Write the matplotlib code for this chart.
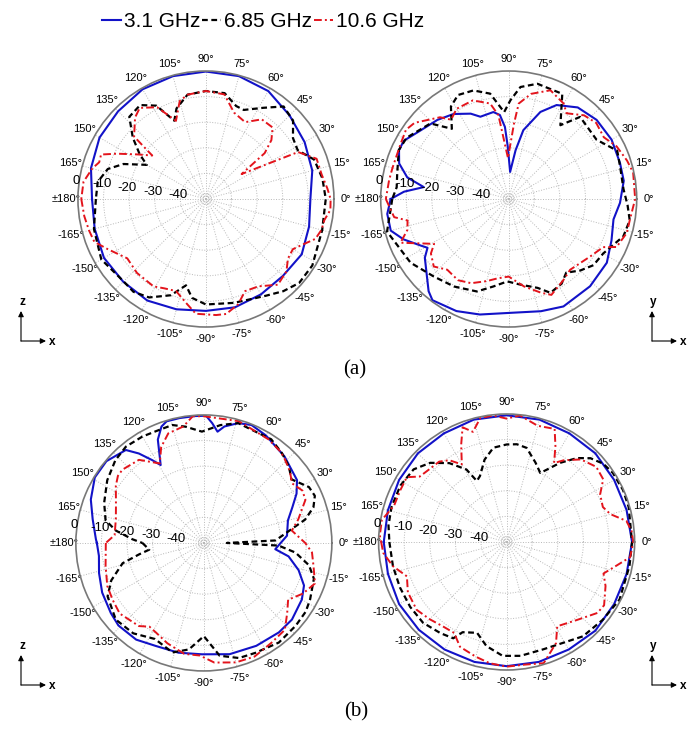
import numpy as np
import matplotlib
matplotlib.use('Agg')
import matplotlib.pyplot as plt
from matplotlib.ticker import NullFormatter

plt.rcParams['font.family'] = ['Liberation Sans', 'DejaVu Sans']

freq_labels = ['3.1 GHz', '6.85 GHz', '10.6 GHz']
ring_db = [-48, -40, -30, -20, -10]
radial_ticks = [0, -10, -20, -30, -40]
radial_labels = ['0', '-10', '-20', '-30', '-40']

# ---- (a) left: xz plane ----
tl_blue_deg = [-180, -165, -150, -135, -120, -105, -90, -75, -60, -45, -30, -15, 0, 15, 30, 45, 60, 75, 90, 105, 120, 135, 150, 165, 180]
tl_blue_db = [-5.5, -5, -4, -4.3, -4.2, -5.4, -6.3, -6.2, -7, -7.5, -6.8, -8.3, -9.2, -7, -5.5, -3.8, -1.3, -0.3, -0.2, -0.3, -0.5, -1.5, -2, -3.5, -5.5]

tl_black_deg = [-180, -165, -150, -135, -128, -120, -110, -103, -98, -90, -75, -65, -58, -50, -42, -32, -15, 0, 10, 20, 28, 35, 42, 50, 58, 67, 72, 80, 90, 100, 108, 112, 118, 125, 133, 140, 146, 150, 157, 163, 171, 180]
tl_black_db = [-7, -4.7, -2.8, -4.5, -4, -5.6, -10, -15.4, -11, -8.8, -8, -7, -5.5, -3, -1, -1, -3, -3.2, -3.8, -5, -9.4, -8.5, -4.2, -2.8, -8, -12.2, -11.8, -8, -7.8, -8.6, -12.8, -17, -8.7, -5.2, -6.1, -12.7, -18.8, -23.3, -15, -9.9, -7.2, -7]

tl_red_deg = [-180, -172, -165, -159, -153, -143, -133, -121, -115, -108, -100, -95, -85, -80, -73, -67, -59, -50, -42, -36, -30, -26, -20, -15, -10, -5, 0, 5, 12, 20, 27, 30, 35, 38, 42, 47, 55, 63, 72, 80, 90, 100, 105, 111, 118, 126, 131, 139, 141, 147, 153, 157, 161, 165, 172, 180]
tl_red_db = [-1.3, -2, -2.7, -3.3, -6.9, -11.5, -10.5, -10.2, -11.5, -12.2, -8.2, -5, -4.5, -4.4, -7, -10.9, -10.2, -6.3, -7.7, -10.4, -10.8, -8.7, -4.5, -3.3, -3, -1.2, -1.3, -2.4, -3.8, -4, -9.6, -23.3, -33, -20.9, -15.6, -11.8, -12, -16.3, -14.5, -8.5, -7.8, -8.6, -10.4, -17.3, -9.4, -6, -7.8, -12.8, -23, -18, -11, -5.5, -5.9, -4, -1.7, -1.3]

# ---- (a) right: xy plane ----
tr_blue_deg = [-180, -173, -165, -159, -152, -149, -145, -131, -127, -115, -104, -90, -74, -63, -47, -33, -22, -11, -2, 9, 18, 30, 42, 53, 63, 70, 78, 82, 87, 91, 93, 96, 100, 109, 114, 123, 132, 142, 151, 156, 162, 168, 172, 176, 180]
tr_blue_db = [-3.9, -2.2, -2.3, -6, -11.2, -13, -10, -2.3, -0.5, -1.7, -3.5, -5.5, -4.4, -2.9, -3.4, -4.3, -6.7, -8.3, -6.5, -4.5, -4.3, -3.6, -3.8, -5.2, -8.8, -13.8, -22.5, -30.8, -39.4, -29.6, -21.8, -17, -15.5, -16, -13.5, -10.4, -8.4, -6.4, -3.1, -3.1, -5, -9.5, -16.5, -9, -3.9]

tr_black_deg = [-180, -176, -165, -147, -134, -122, -109, -100, -91, -82, -72, -66, -58, -52, -45, -38, -30, -18, -10, -3, 5, 16, 24, 34, 49, 55, 63, 76, 84, 89, 93, 100, 108, 116, 122, 129, 136, 149, 156, 167, 174, 180]
tr_black_db = [-4.5, -3.9, -0.8, -4.3, -7.9, -9.7, -11.8, -15.3, -17.8, -16.2, -13.5, -9.9, -11, -13.5, -10.5, -8, -7.4, -2.9, -2, -3.5, -5, -4.7, -3.6, -8.6, -7.5, -14.8, -3.9, -3.6, -6, -11.4, -16, -8.2, -5.4, -4.8, -7.4, -14.7, -7.5, -3.5, -3, -5.3, -6, -4.5]

tr_red_deg = [-180, -171, -168, -163, -158, -149, -145, -138, -131, -122, -114, -105, -98, -90, -80, -71, -66, -56, -49, -35, -27, -24, -16, -10, 0, 12, 18, 26, 33, 41, 48, 56, 60, 69, 78, 84, 86, 91, 97, 101, 110, 120, 126, 130, 141, 146, 153, 165, 171, 180]
tr_red_db = [-2, -4.7, -9.6, -8.6, -4.4, -16, -12.9, -10.6, -13.4, -12.6, -14, -16.8, -18.7, -19.7, -15.3, -11.3, -9, -11.8, -13.4, -11, -8.6, -3.9, -2, -2, -0.6, -0.3, -1.4, -3.1, -5.7, -4.7, -6, -9.6, -7, -4.5, -8, -12.5, -20.5, -34, -17, -12, -9, -9.3, -11.7, -8.3, -2.7, -1.6, -2.6, -3, -2.7, -2]

# ---- (b) left: xz plane ----
bl_blue_deg = [-180, -173, -164, -154, -143, -136, -125, -115, -103, -91, -77, -63, -50, -41, -30, -23, -16, -9, -5, 5, 15, 22, 28, 34, 47, 60, 68, 74, 80, 83, 86, 89, 94, 101, 107, 110, 114, 119, 122, 126, 130, 140, 149, 159, 168, 178, 180]
bl_blue_db = [-8.2, -8.7, -7.4, -5.8, -4.5, -3.6, -3.9, -5.6, -6, -6.5, -5.4, -4.9, -4.4, -4.4, -5.8, -7.5, -11.5, -16.5, -22, -17.4, -16, -12.7, -9, -6.1, -3.8, -1.5, -0.3, -1.3, -3.8, -6.2, -3.1, -0.3, -0.3, -0.3, -0.3, -1.6, -5.8, -15.2, -11.8, -6.8, -2.6, -0.3, -0.3, -2.7, -5.6, -7.8, -8.2]

bl_black_deg = [-180, -173, -170, -166, -158, -151, -139, -128, -117, -106, -98, -90, -82, -73, -65, -53, -42, -34, -28, -18, -12, -6, -2, 0, 2, 10, 13, 18, 23, 28, 36, 42, 49, 57, 67, 74, 82, 91, 99, 105, 113, 120, 129, 137, 147, 158, 167, 172, 177, 180]
bl_black_db = [-26, -28.5, -24.3, -17.3, -11, -7, -4.4, -5.2, -7.9, -5.5, -8, -13.6, -5.5, -3, -2.6, -1.3, -1.7, -2, -3, -4.8, -8, -14, -20.8, -41, -22, -14, -9.4, -5, -2.9, -3.5, -7.7, -5.3, -3.5, -1.7, -2, -1.3, -3.5, -6.5, -4, -2.3, -2.5, -2, -1.6, -2.7, -5, -8, -10.6, -15.3, -22, -26]

bl_red_deg = [-180, -167, -156, -148, -140, -128, -123, -118, -110, -100, -92, -85, -75, -66, -56, -47, -40, -34, -27, -20, -12, -5, 0, 8, 14, 23, 28, 34, 40, 46, 50, 58, 74, 90, 95, 100, 108, 114, 119, 128, 138, 142, 147, 157, 165, 175, 180]
bl_red_db = [-11.7, -10.6, -8.7, -8, -7.1, -8.8, -11, -10.3, -8.3, -6, -6, -3.1, -1.7, -1.4, -2.9, -3.6, -7.5, -10.3, -6.5, -3.8, -6.2, -7.6, -10.4, -15.3, -12, -6.9, -6.4, -8.4, -6.2, -4.5, -3.4, -2.3, -0.5, -0.5, -0.3, -3.8, -5, -9, -14.5, -8.8, -7.2, -7.4, -9, -12.7, -14.4, -15, -11.7]

# ---- (b) right: xy plane ----
br_blue_deg = [-180, -165, -150, -135, -120, -105, -90, -75, -60, -45, -30, -15, 0, 15, 30, 45, 60, 75, 90, 105, 120, 135, 150, 165, 180]
br_blue_db = [-2, -2, -1.5, -1.5, -1.5, -1.5, -1.5, -1.5, -1.5, -1, -1.5, -1.5, -1, -1.5, -1.5, -1, -1, -0.5, -0.5, -0.5, -1, -1, -1.5, -2, -2]

br_black_deg = [-180, -168, -157, -146, -136, -126, -119, -116, -108, -101, -92, -83, -71, -61, -51, -39, -27, -11, 0, 16, 24, 33, 39, 45, 50, 56, 64, 70, 78, 84, 90, 98, 105, 112, 116, 119, 126, 134, 142, 152, 163, 172, 180]
br_black_db = [-4.2, -4.6, -4.7, -4.6, -4.6, -6, -7, -10.8, -12.7, -8.6, -5.5, -5.2, -5.7, -4.9, -2.6, -1.7, -0.5, -1.1, -1, -0.4, -0.2, -0.5, -1.4, -3.7, -7.2, -12.7, -20, -17, -12.4, -11.6, -11.9, -12.8, -16.7, -22.2, -23.5, -17.6, -11.9, -7, -3.9, -3, -3, -3.4, -4.2]

br_red_deg = [-180, -175, -168, -161, -153, -143, -135, -127, -120, -114, -105, -98, -90, -82, -73, -64, -59, -48, -38, -33, -24, -18, -12, -7, 0, 5, 10, 15, 20, 27, 33, 40, 48, 55, 59, 63, 67, 75, 84, 90, 96, 102, 107, 111, 115, 120, 125, 130, 137, 143, 147, 154, 162, 170, 177, 180]
br_red_db = [-1, -1.6, -4.6, -8.8, -6.7, -6, -7.4, -8.7, -9, -5.2, -3.6, -2.2, -1.3, -1.6, -0.5, -6, -11.6, -9, -5, -4.6, -7.7, -10.2, -6, -1.4, -0.5, -1, -2.5, -8, -10, -9, -5, -4.3, -6.6, -11, -14, -8, -2, -3, -0.3, -1.8, -0.3, -0.5, -5, -2, -8, -15, -11, -9, -8.5, -7.5, -3.5, -3.8, -3.8, -0.5, -0.4, -1]

colors = ['#1212c8', 'black', '#e3141c']
styles = ['-', (0, (2.6, 1.6)), (0, (4, 1.6, 1, 1.6))]
widths = [1.5, 1.6, 1.4]

theta_ticks = np.arange(0, 360, 15)
theta_labels = []
for a in theta_ticks:
    if a < 180:
        theta_labels.append(f'{a}°')
    elif a == 180:
        theta_labels.append('±180°')
    else:
        theta_labels.append(f'-{360 - a}°')

fig = plt.figure(figsize=(6.96, 7.29), dpi=100)


def polar_panel(rect, curves):
    ax = fig.add_axes(rect, projection='polar')
    lines = []
    for (deg, db), c, ls, lw in zip(curves, colors, styles, widths):
        ln, = ax.plot(np.deg2rad(deg), db, color=c, ls=ls, lw=lw)
        lines.append(ln)
    ax.set_ylim(-50, 0)
    ax.set_yticks(ring_db)
    ax.yaxis.set_major_formatter(NullFormatter())
    ax.set_thetagrids(theta_ticks, theta_labels)
    ax.grid(color='#b8b8b8', ls=':', lw=0.7)
    ax.spines['polar'].set_color('#787878')
    ax.spines['polar'].set_linewidth(1.2)
    ax.tick_params(axis='x', pad=-2, labelsize=8)
    for r, lab in zip(radial_ticks, radial_labels):
        ax.text(np.deg2rad(172), r + 1, lab, ha='center', va='center', fontsize=9.5)
    return lines


lines = polar_panel([0.1120, 0.5514, 0.3678, 0.3512],
                    [(tl_blue_deg, tl_blue_db), (tl_black_deg, tl_black_db), (tl_red_deg, tl_red_db)])
polar_panel([0.5470, 0.5514, 0.3678, 0.3512],
            [(tr_blue_deg, tr_blue_db), (tr_black_deg, tr_black_db), (tr_red_deg, tr_red_db)])
polar_panel([0.1090, 0.0796, 0.3678, 0.3512],
            [(bl_blue_deg, bl_blue_db), (bl_black_deg, bl_black_db), (bl_red_deg, bl_red_db)])
polar_panel([0.5440, 0.0809, 0.3678, 0.3512],
            [(br_blue_deg, br_blue_db), (br_black_deg, br_black_db), (br_red_deg, br_red_db)])

fig.legend(lines, freq_labels, loc='upper center', bbox_to_anchor=(0.378, 1.0),
           ncol=3, frameon=False, fontsize=15, handlelength=0.9, handletextpad=0.15,
           columnspacing=0.1, borderpad=0.1)

# overlay in pixel coordinates for the axis indicators and captions
ov = fig.add_axes([0, 0, 1, 1])
ov.set_xlim(0, 696)
ov.set_ylim(729, 0)
ov.axis('off')
ov.patch.set_alpha(0)

arrow = dict(arrowstyle='-|>', color='black', lw=0.8, mutation_scale=8, shrinkA=0, shrinkB=0)
for cx, cy, up in [(21, 341, 'z'), (652, 341, 'y'), (21, 685, 'z'), (652, 685, 'y')]:
    ov.annotate('', xy=(cx, cy - 30), xytext=(cx, cy), arrowprops=arrow)
    ov.annotate('', xy=(cx + 25, cy), xytext=(cx, cy), arrowprops=arrow)
    ov.text(cx + 1, cy - 39, up, ha='center', va='center', fontsize=8.5, fontweight='bold')
    ov.text(cx + 31, cy + 1, 'x', ha='center', va='center', fontsize=8.5, fontweight='bold')

ov.text(355, 370, '(a)', ha='center', va='center', fontsize=15, family='Liberation Serif')
ov.text(356, 712, '(b)', ha='center', va='center', fontsize=15, family='Liberation Serif')

fig.savefig('out.png', dpi=100)
